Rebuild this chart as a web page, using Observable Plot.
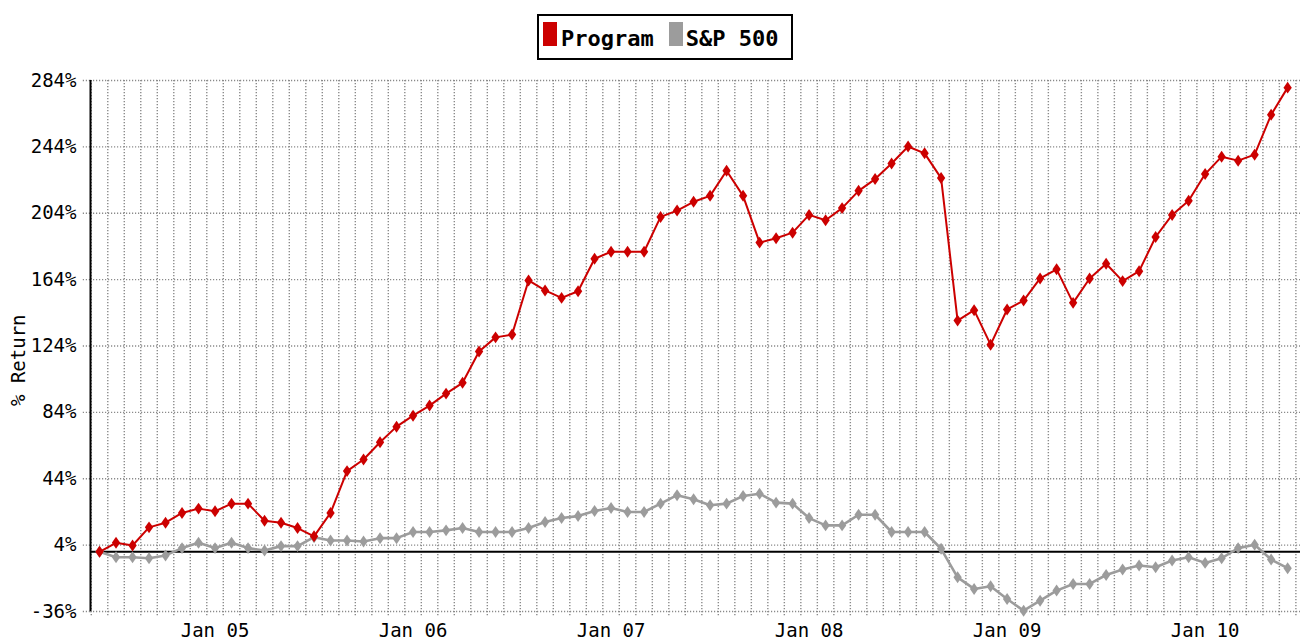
<!DOCTYPE html>
<html>
<head>
<meta charset="utf-8">
<script src="https://cdn.jsdelivr.net/npm/d3@7"></script>
<script src="https://cdn.jsdelivr.net/npm/@observablehq/plot@0.6"></script>
<style>
  html, body { margin: 0; padding: 0; background: #fff; }
  body { width: 1300px; height: 644px; overflow: hidden; font-family: "DejaVu Sans Mono", monospace; }
  #legend { position: relative; height: 66px; }
  #legend .box {
    position: absolute; left: 537px; top: 14px; width: 252px; height: 42px;
    border: 2px solid #000; box-sizing: content-box;
    display: flex; align-items: baseline; padding-top: 0;
  }
  #legend .inner { display: flex; align-items: baseline; padding-top: 6px; padding-left: 4px; }
  #legend .sw { display: inline-block; width: 14px; height: 24px; }
  #legend .lab { font-size: 22px; line-height: 22px; font-weight: bold; color: #000; white-space: pre; }
  svg { display: block; }
</style>
</head>
<body>
<div id="legend"></div>
<div id="chart"></div>
<script>
// ---- data ----
const months = [
  "Jun 04","Jul 04","Aug 04","Sep 04","Oct 04","Nov 04","Dec 04",
  "Jan 05","Feb 05","Mar 05","Apr 05","May 05","Jun 05","Jul 05","Aug 05","Sep 05","Oct 05","Nov 05","Dec 05",
  "Jan 06","Feb 06","Mar 06","Apr 06","May 06","Jun 06","Jul 06","Aug 06","Sep 06","Oct 06","Nov 06","Dec 06",
  "Jan 07","Feb 07","Mar 07","Apr 07","May 07","Jun 07","Jul 07","Aug 07","Sep 07","Oct 07","Nov 07","Dec 07",
  "Jan 08","Feb 08","Mar 08","Apr 08","May 08","Jun 08","Jul 08","Aug 08","Sep 08","Oct 08","Nov 08","Dec 08",
  "Jan 09","Feb 09","Mar 09","Apr 09","May 09","Jun 09","Jul 09","Aug 09","Sep 09","Oct 09","Nov 09","Dec 09",
  "Jan 10","Feb 10","Mar 10","Apr 10","May 10","Jun 10"
];
const program = [
  0, 5.4, 3.8, 14.7, 17.5, 23.4, 26,
  24.4, 29, 29, 18.7, 17.5, 14.3, 9.3, 23.4, 48.6, 55.6, 66, 75.4,
  82, 88.1, 95.3, 101.8, 120.7, 129.2, 130.9, 163.5, 157.5, 153, 157, 176.6,
  180.8, 180.8, 180.8, 201.8, 205.6, 210.9, 214.5, 229.6, 214.5, 186.3, 188.9, 192.3,
  203, 199.8, 207.1, 217.5, 224.6, 234, 244.2, 240.1, 225.2, 139.3, 145.6, 124.8,
  146, 151.4, 164.7, 170.2, 150, 164.7, 173.6, 163.1, 169.1, 189.7, 203, 211.5,
  227.6, 238.1, 235.7, 239.3, 263.3, 279.7
];
const sp500 = [
  0, -3.3, -3.3, -3.9, -2.2, 2.2, 5.4,
  2.2, 5.4, 2.2, 0.8, 3.4, 3.4, 8.8, 6.8, 6.8, 6.2, 8.2, 8.2,
  11.9, 11.9, 12.9, 14.3, 11.9, 11.9, 11.9, 14.3, 17.9, 20.3, 21.5, 24.6,
  26.4, 24, 24, 29, 34.1, 31.6, 28, 29, 33.6, 35, 29.6, 29,
  20.3, 15.9, 15.9, 22.3, 22.3, 11.9, 11.9, 11.9, 1.8, -15.4, -22.4, -20.8,
  -28.5, -35.5, -29.5, -23.4, -19.4, -19.4, -14, -10.7, -8.3, -9.3, -5.3, -3.3,
  -6.7, -3.9, 2.2, 4.2, -4.7, -9.9
];
const yTicks = [-36, 4, 44, 84, 124, 164, 204, 244, 284];
const xTickLabels = ["Jan 05", "Jan 06", "Jan 07", "Jan 08", "Jan 09", "Jan 10"];
const seriesNames = ["Program", "S&P 500"];
const seriesColors = ["#cc0000", "#9c9c9c"];
const yLabel = "% Return";

// ---- derived ----
const data = months.map((m, i) => ({i, m, program: program[i], sp: sp500[i]}));
const janIdx = months.map((m, i) => xTickLabels.includes(m) ? i : -1).filter(i => i >= 0);
const bounds = d3.range(months.length + 1).map(i => i - 0.5);
const xDomain = [-0.547, months.length - 0.22];

const tallDiamond = {
  draw(ctx, size) {
    const r = Math.sqrt(size / Math.PI);
    const w = r * 0.8, h = r * 1.15;
    ctx.moveTo(0, -h); ctx.lineTo(w, 0); ctx.lineTo(0, h); ctx.lineTo(-w, 0); ctx.closePath();
  }
};

// ---- legend ----
const legend = document.getElementById("legend");
const box = document.createElement("div"); box.className = "box";
const inner = document.createElement("div"); inner.className = "inner";
seriesNames.forEach((name, k) => {
  const sw = document.createElement("span"); sw.className = "sw";
  sw.style.background = seriesColors[k];
  if (k > 0) sw.style.marginLeft = "15px";
  const lab = document.createElement("span"); lab.className = "lab";
  lab.textContent = name;
  lab.style.marginLeft = k === 0 ? "4px" : "3px";
  inner.appendChild(sw); inner.appendChild(lab);
});
box.appendChild(inner); legend.appendChild(box);

// ---- chart ----
const chart = Plot.plot({
  width: 1300,
  height: 578,
  marginLeft: 90,
  marginRight: 0,
  marginTop: 14,
  marginBottom: 33,
  style: {fontFamily: "'DejaVu Sans Mono', monospace", fontSize: "19px", background: "#fff", overflow: "hidden"},
  x: {type: "linear", domain: xDomain},
  y: {domain: [-36, 284]},
  marks: [
    Plot.ruleX(bounds, {x: d => d, stroke: "#8a8a8a", strokeWidth: 1.4, strokeDasharray: "1.2,1.8", insetBottom: -5}),
    Plot.ruleY(yTicks, {y: d => d, stroke: "#8a8a8a", strokeWidth: 1.4, strokeDasharray: "1.2,1.8"}),
    Plot.axisY(yTicks, {tickFormat: d => `${d}%`, tickSize: 8, tickPadding: 6, stroke: "#8a8a8a", strokeWidth: 1.4, strokeDasharray: "1.2,1.8", fill: "#000", label: null, fontSize: 19}),
    Plot.axisX(janIdx, {tickFormat: i => months[i], tickSize: 0, tickPadding: 12, fill: "#000", label: null, fontSize: 19}),
    Plot.text([yLabel], {text: d => d, frameAnchor: "left", rotate: -90, dx: -72, dy: 60, fontSize: 19, fill: "#000"}),
    Plot.ruleX([xDomain[0]], {x: d => d, stroke: "#000", strokeWidth: 2}),
    Plot.ruleY([0], {y: d => d, stroke: "#000", strokeWidth: 2}),
    Plot.line(data, {x: "i", y: "sp", stroke: seriesColors[1], strokeWidth: 2.6}),
    Plot.dot(data, {x: "i", y: "sp", symbol: tallDiamond, r: 5.2, fill: seriesColors[1], stroke: "none"}),
    Plot.line(data, {x: "i", y: "program", stroke: seriesColors[0], strokeWidth: 2}),
    Plot.dot(data, {x: "i", y: "program", symbol: tallDiamond, r: 5.2, fill: seriesColors[0], stroke: "none"})
  ]
});
document.getElementById("chart").appendChild(chart);
</script>
</body>
</html>
